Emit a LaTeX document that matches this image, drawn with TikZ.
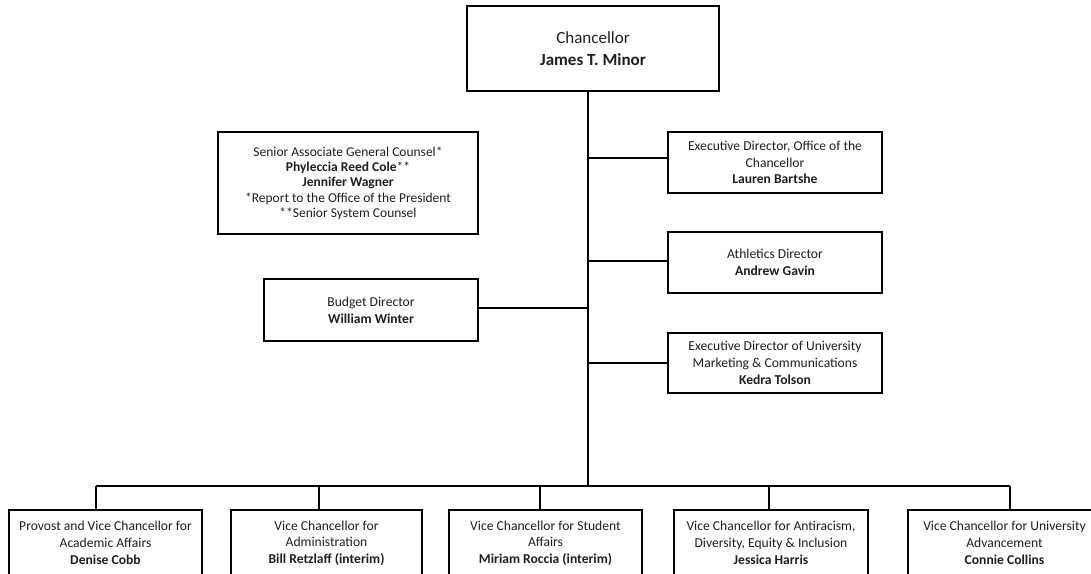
\documentclass[tikz,border=0pt]{standalone}
\usepackage{fontspec}
\setmainfont{Carlito}
\begin{document}
\begin{tikzpicture}[x=1pt,y=-1pt,
  box/.style={draw=black, line width=1.9pt, rectangle, align=center, inner sep=0pt,
    text=black!88, font={\fontsize{13.6}{16.7}\selectfont}},
  line/.style={draw=black, line width=1.9pt}]
\useasboundingbox (0,0) rectangle (1091,573);
\clip (0,0) rectangle (1091,573);
% Chancellor
\node[box, minimum width=252pt, minimum height=85pt, font={\fontsize{17}{22}\selectfont}] (chan) at (593,48.5) {Chancellor\\\textbf{James T. Minor}};
% Counsel
\node[box, minimum width=260pt, minimum height=102pt, font={\fontsize{13.5}{15.3}\selectfont}] (counsel) at (348,183)
  {Senior Associate General Counsel*\\\textbf{Phyleccia Reed Cole}**\\\textbf{Jennifer Wagner}\\*Report to the Office of the President\\**Senior System Counsel};
% Right side
\node[box, minimum width=214pt, minimum height=61pt] (exec) at (775,162.5) {Executive Director, Office of the\\Chancellor\\\textbf{Lauren Bartshe}};
\node[box, minimum width=214pt, minimum height=61pt] (ath) at (775,262.5) {Athletics Director\\\textbf{Andrew Gavin}};
\node[box, minimum width=214pt, minimum height=62pt] (budget) at (371,310) {Budget Director\\\textbf{William Winter}};
\node[box, minimum width=214pt, minimum height=60pt] (mark) at (775,363) {Executive Director of University\\Marketing \& Communications\\\textbf{Kedra Tolson}};
% Bottom boxes
\node[box, minimum width=193pt, minimum height=66pt] (b1) at (105.5,543) {Provost and Vice Chancellor for\\Academic Affairs\\\textbf{Denise Cobb}};
\node[box, minimum width=191pt, minimum height=66pt] (b2) at (326.5,543) {Vice Chancellor for\\Administration\\\textbf{Bill Retzlaff (interim)}};
\node[box, minimum width=193pt, minimum height=66pt] (b3) at (545.5,543) {Vice Chancellor for Student\\Affairs\\\textbf{Miriam Roccia (interim)}};
\node[box, minimum width=194pt, minimum height=66pt] (b4) at (771,543) {Vice Chancellor for Antiracism,\\Diversity, Equity \& Inclusion\\\textbf{Jessica Harris}};
\node[box, minimum width=193pt, minimum height=66pt] (b5) at (1004.5,543) {Vice Chancellor for University\\Advancement\\\textbf{Connie Collins}};
% Coordinates
\coordinate (trunk) at (588,486);
\coordinate (d1) at (96,486);
\coordinate (d2) at (319,486);
\coordinate (d3) at (540,486);
\coordinate (d4) at (769,486);
\coordinate (d5) at (1010,486);
% Connectors
\draw[line] (chan.south -| trunk) -- (trunk);
\draw[line] ([yshift=4.5]exec.west) -- ([yshift=4.5]exec.west -| trunk);
\draw[line] ([yshift=1.5]ath.west) -- ([yshift=1.5]ath.west -| trunk);
\draw[line] ([yshift=2]budget.east) -- ([yshift=2]budget.east -| trunk);
\draw[line] (mark.west) -- (mark.west -| trunk);
\draw[line] (d1) -- (d5);
\draw[line] (d1) -- (d1 |- b1.north);
\draw[line] (d2) -- (d2 |- b2.north);
\draw[line] (d3) -- (d3 |- b3.north);
\draw[line] (d4) -- (d4 |- b4.north);
\draw[line] (d5) -- (d5 |- b5.north);
\end{tikzpicture}
\end{document}
